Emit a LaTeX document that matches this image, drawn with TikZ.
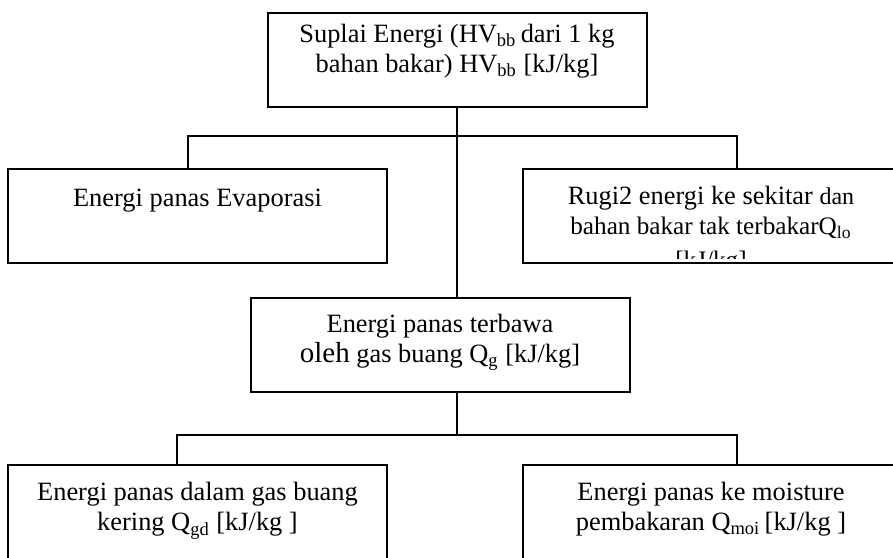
\documentclass[tikz,border=0pt]{standalone}
\usepackage{fontspec}
\setmainfont{Liberation Serif}
\usetikzlibrary{positioning}

\begin{document}
\begin{tikzpicture}[x=0.5pt,y=-0.5pt,
    box/.style={shape=rectangle, draw, line width=1pt, inner sep=0pt,
      minimum width=189.5pt, minimum height=47pt},
    txt/.style={inner sep=0pt, align=center, font=\fontsize{13.2}{15}\selectfont},
    wire/.style={line width=1pt}]
    \useasboundingbox (0,0) rectangle (893,557);
    \clip (0,0) rectangle (893,557);
    \node[box] (supply) at (457,59.5) {};
    \node[box] (evap) at (197.5,216) {};
    \node[box, minimum width=188pt] (loss) at (711,215.5) {};
    \node[box] (flue) at (440,345) {};
    \node[box] (dry) at (197.5,512) {};
    \node[box, minimum width=188pt] (moist) at (711,512) {};
    \node[txt, below=6pt of supply.north] (supplytext) {Suplai Energi (HV\textsubscript{bb}\,dari 1 kg\\bahan bakar) HV\textsubscript{bb} [kJ/kg]};
    \node[txt, below=10.5pt of evap.north] (evaptext) {Energi panas Evaporasi};
    \begin{scope}
      \clip (loss.north west) rectangle ([yshift=2.5pt]loss.south east);
      \node[txt, below=9pt of loss.north] (losstext) {Rugi2 energi ke sekitar {\fontsize{12}{15}\selectfont dan}\\{\fontsize{12.6}{15}\selectfont bahan bakar tak terbakarQ\textsubscript{lo}}\\[2pt]{\fontsize{12.6}{15}\selectfont [kJ/kg]}};
    \end{scope}
    \node[txt, below=8.5pt of flue.north] (fluetext) {Energi panas terbawa\\{\fontsize{14.5}{17}\selectfont oleh} gas buang Q\textsubscript{g} [kJ/kg]};
    \node[txt, below=9pt of dry.north] (drytext) {Energi panas dalam gas buang\\kering Q\textsubscript{gd} [kJ/kg ]};
    \node[txt, below=9pt of moist.north] (moisttext) {Energi panas ke moisture\\pembakaran Q\textsubscript{moi}\,[kJ/kg ]};
    \coordinate (hubtop) at (supply.south |- 0,136);
    \coordinate (hubbot) at (supply.south |- 0,435);
    \draw[wire] (supply.south) -- (supply.south |- flue.north);
    \draw[wire] ([xshift=-4.75pt]evap.north) |- (hubtop) -| ([xshift=13pt]loss.north);
    \draw[wire] (flue.south -| supply.south) -- (hubbot);
    \draw[wire] ([xshift=-10.25pt]dry.north) |- (hubbot) -| ([xshift=13pt]moist.north);
\end{tikzpicture}
\end{document}
